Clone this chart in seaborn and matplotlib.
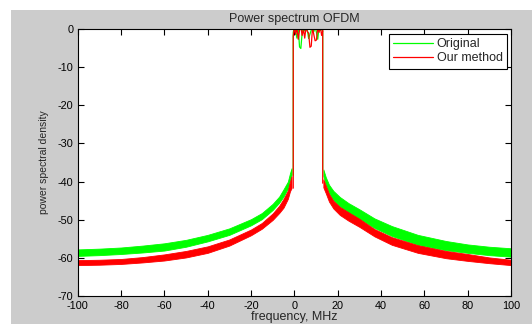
import numpy as np
import matplotlib
matplotlib.use("Agg")
import matplotlib.pyplot as plt
from matplotlib.patches import Rectangle
import seaborn as sns

# left skirt of the spectrum (below the OFDM band)
left_freq = [-100, -90, -80, -70, -60, -50, -40, -30, -20, -15, -10, -7, -5, -3, -2, -1.3]
green_left_hi = [-57.7, -57.5, -57.2, -56.7, -56.1, -55.2, -53.9, -52.2, -49.8, -48.2, -45.8, -43.9, -42.0, -40.0, -37.8, -36.5]
green_left_lo = [-59.4, -59.2, -58.9, -58.5, -58.0, -57.0, -55.6, -53.9, -51.4, -49.8, -47.4, -45.5, -43.9, -41.8, -39.6, -38.3]
red_left_hi = [-60.5, -60.4, -60.2, -59.7, -59.0, -58.1, -56.9, -55.1, -52.5, -50.8, -48.3, -46.3, -44.5, -42.3, -40.0, -38.6]
red_left_lo = [-61.8, -61.7, -61.5, -61.1, -60.6, -59.8, -58.6, -56.7, -54.0, -52.3, -50.0, -48.2, -46.8, -44.5, -42.5, -41.7]

# right skirt (above the band)
right_freq = [13.4, 14.5, 16, 18, 21, 25, 30, 37, 45, 57, 70, 80, 90, 100]
green_right_hi = [-36.8, -38.8, -40.8, -42.4, -44.0, -45.6, -47.2, -49.6, -51.6, -53.9, -55.5, -56.4, -57.0, -57.4]
green_right_lo = [-38.5, -40.8, -43.0, -44.8, -46.5, -48.0, -49.7, -52.1, -54.2, -56.5, -57.9, -58.6, -59.2, -59.6]
red_right_hi = [-39.4, -41.0, -43.2, -45.0, -46.6, -48.0, -49.7, -52.4, -54.5, -56.6, -58.1, -58.9, -59.8, -60.4]
red_right_lo = [-41.5, -43.0, -45.2, -47.0, -48.7, -50.2, -51.8, -54.3, -56.5, -58.6, -60.0, -60.7, -61.3, -61.8]

# in-band part, including the two steep edges
green_band_f = [-0.5, -0.5, 0.0, 0.6, 1.2, 1.8, 2.4, 3.0, 3.6, 4.2, 4.8, 5.4, 6.0, 6.6,
                7.2, 7.8, 8.4, 9.0, 9.6, 10.2, 10.8, 11.4, 12.0, 12.6, 13.1, 13.1]
green_band_v = [-38.3, -1.0, 0.5, -0.8, -2.5, 0.3, -4.8, -5.2, -1.2, 0.4, -0.6, 0.5, -0.3, -2.6,
                -1.5, -0.4, 0.2, -0.8, 0.5, -1.0, -2.8, 0.4, -0.5, -0.2, -0.6, -36.8]
red_band_f = [-0.5, -0.5, 0.0, 0.6, 1.2, 1.8, 2.4, 3.0, 3.6, 4.2, 4.8, 5.4, 6.0, 6.6,
              7.2, 7.8, 8.4, 9.0, 9.6, 10.2, 10.8, 11.4, 12.0, 12.6, 13.1, 13.1]
red_band_v = [-41.7, -2.0, 0.3, -1.5, 0.2, -2.8, -0.4, 0.5, -1.8, -0.2, -2.5, 0.4, -0.8, -1.2,
              -4.9, -4.6, 0.3, -1.6, -3.2, -3.0, 0.2, -1.0, 0.4, -1.8, -0.5, -40.4]

x_ticks = [-100, -80, -60, -40, -20, 0, 20, 40, 60, 80, 100]
y_ticks = [-70, -60, -50, -40, -30, -20, -10, 0]

GREEN = "#00ff00"
RED = "#ff0000"

sns.set_style("ticks")
plt.rcParams["font.family"] = ["Liberation Sans", "DejaVu Sans"]
plt.rcParams["axes.unicode_minus"] = False

fig = plt.figure(figsize=(5.32, 3.24), dpi=100)
fig.patch.set_facecolor("white")
fig.patches.append(Rectangle((11 / 532, 0), 1, 314 / 324, transform=fig.transFigure,
                             facecolor="#cccccc", edgecolor="none", zorder=-1))
ax = fig.add_axes([0.146, 0.0849, 0.8145, 0.827])
ax.set_facecolor("white")

# green first, red on top
ax.fill_between(left_freq, green_left_lo, green_left_hi, color=GREEN, lw=0.6, edgecolor=GREEN)
ax.fill_between(right_freq, green_right_lo, green_right_hi, color=GREEN, lw=0.6, edgecolor=GREEN)
sns.lineplot(x=green_band_f, y=green_band_v, ax=ax, color=GREEN, lw=0.9,
             estimator=None, sort=False, label="Original")
ax.fill_between(left_freq, red_left_lo, red_left_hi, color=RED, lw=0.6, edgecolor=RED)
ax.fill_between(right_freq, red_right_lo, red_right_hi, color=RED, lw=0.6, edgecolor=RED)
sns.lineplot(x=red_band_f, y=red_band_v, ax=ax, color=RED, lw=0.9,
             estimator=None, sort=False, label="Our method")

ax.set_xlim(-100, 100)
ax.set_ylim(-70, 0)
ax.set_xticks(x_ticks)
ax.set_yticks(y_ticks)
ax.tick_params(direction="in", top=True, right=True, length=4, width=0.8,
               labelsize=7.8, colors="black", pad=3)
for s in ax.spines.values():
    s.set_visible(True)
    s.set_color("black")
    s.set_linewidth(0.8)

ax.set_title("Power spectrum OFDM", fontsize=9, pad=5)
ax.set_xlabel("frequency, MHz", fontsize=9)
ax.xaxis.set_label_coords(0.5, -0.088)
ax.xaxis.label.set_va("baseline")
ax.set_ylabel("power spectral density", fontsize=7.5, labelpad=6)

leg = ax.legend(loc="upper right", bbox_to_anchor=(0.991, 0.98), borderaxespad=0,
                fontsize=9, frameon=True, fancybox=False, handlelength=3.2,
                handletextpad=0.3, labelspacing=0.15, borderpad=0.35)
leg.get_frame().set_edgecolor("black")
leg.get_frame().set_linewidth(0.8)
leg.get_frame().set_alpha(1)

fig.savefig("out.png", dpi=100)
